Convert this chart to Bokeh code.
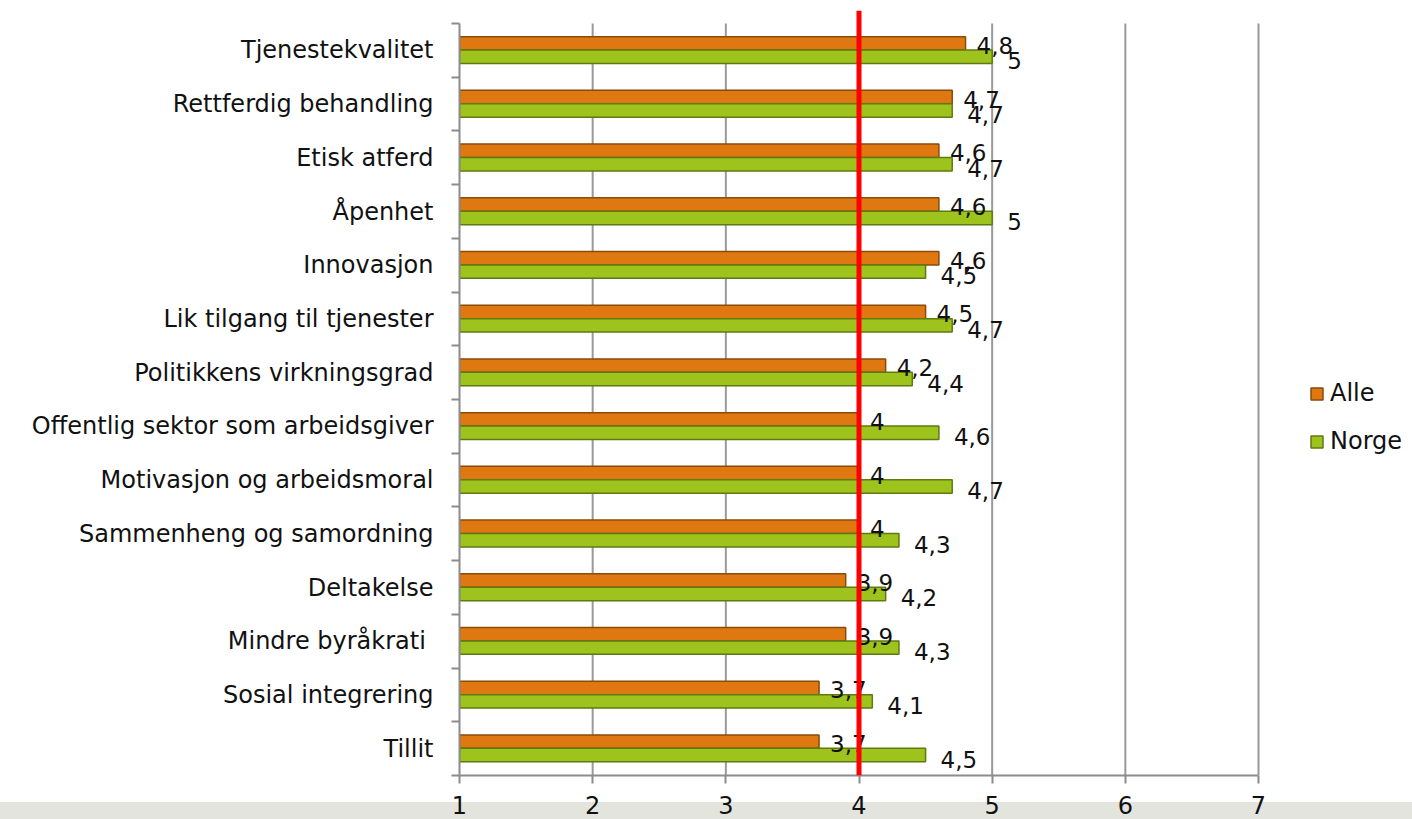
from bokeh.plotting import figure
from bokeh.models import (ColumnDataSource, Range1d, FixedTicker, LabelSet, Span,
                          Legend, LegendItem)
from bokeh.core.properties import value
from bokeh.embed import file_html
from bokeh.resources import INLINE

categories = ["Tjenestekvalitet", "Rettferdig behandling", "Etisk atferd", "Åpenhet",
              "Innovasjon", "Lik tilgang til tjenester", "Politikkens virkningsgrad",
              "Offentlig sektor som arbeidsgiver", "Motivasjon og arbeidsmoral",
              "Sammenheng og samordning", "Deltakelse", "Mindre  byråkrati",
              "Sosial integrering", "Tillit"]
alle = [4.8, 4.7, 4.6, 4.6, 4.6, 4.5, 4.2, 4.0, 4.0, 4.0, 3.9, 3.9, 3.7, 3.7]
norge = [5.0, 4.7, 4.7, 5.0, 4.5, 4.7, 4.4, 4.6, 4.7, 4.3, 4.2, 4.3, 4.1, 4.5]
x_ticks = [1, 2, 3, 4, 5, 6, 7]
reference_value = 4

FONT = "DejaVu Sans"
n = len(categories)
pos = [n - 1 - i for i in range(n)]

# frame spans to the right canvas edge; the axis itself is bounded to 1..7
x_end = 1 + 6 * (1412 - 459) / 799.0
# a little head-room above the top category so the red reference line runs higher
y_top = (n - 0.5) + 13 * n / 752.0


def fmt(v):
    return ("%g" % v).replace(".", ",")


src_a = ColumnDataSource(dict(y=[q + 0.13 for q in pos], v=alle, lbl=[fmt(v) for v in alle]))
src_n = ColumnDataSource(dict(y=[q - 0.12 for q in pos], v=norge, lbl=[fmt(v) for v in norge]))

p = figure(width=1412, height=819, output_backend="svg", toolbar_location=None,
           x_range=Range1d(1, x_end), y_range=Range1d(-0.5, y_top),
           min_border_left=459, min_border_right=0, min_border_top=10,
           min_border_bottom=44, outline_line_color=None)
p.border_fill_alpha = 0
p.background_fill_color = "white"
p.styles = {"background": "linear-gradient(to bottom, #ffffff 0px, #ffffff 802px, #e4e4de 802px, #e4e4de 819px)"}

# vertical grid lines, limited to the category area
p.segment(x0=x_ticks[1:], x1=x_ticks[1:], y0=-0.5, y1=n - 0.5,
          line_color="#999999", line_width=2)

ra = p.hbar(y="y", right="v", left=1, height=0.25, source=src_a,
            fill_color="#E07812", line_color="#8a4a0c", line_width=1.5)
rn = p.hbar(y="y", right="v", left=1, height=0.25, source=src_n,
            fill_color="#9DC31C", line_color="#5f7a12", line_width=1.5)

p.add_layout(LabelSet(x="v", y="y", text="lbl", source=src_a, x_offset=11, y_offset=-2,
                      text_baseline="middle", text_font=value(FONT), text_font_size="23px",
                      text_color="#111111"))
p.add_layout(LabelSet(x="v", y="y", text="lbl", source=src_n, x_offset=15, y_offset=-4,
                      text_baseline="middle", text_font=value(FONT), text_font_size="23px",
                      text_color="#111111"))

p.add_layout(Span(location=reference_value, dimension="height", line_color="#ff0000",
                  line_width=5))

# axes
p.xaxis.ticker = FixedTicker(ticks=x_ticks)
p.xaxis.bounds = (1, 7)
p.xaxis.axis_line_color = "#8c8c8c"
p.xaxis.axis_line_width = 2
p.xaxis.major_tick_line_color = "#8c8c8c"
p.xaxis.major_tick_line_width = 2
p.xaxis.major_tick_out = 8
p.xaxis.major_tick_in = 0
p.xaxis.minor_tick_line_color = None
p.xaxis.major_label_text_font = FONT
p.xaxis.major_label_text_font_size = "24px"
p.xaxis.major_label_text_color = "#111111"
p.xaxis.major_label_standoff = 12

p.yaxis.ticker = FixedTicker(ticks=pos, minor_ticks=[k - 0.5 for k in range(n + 1)])
p.yaxis.bounds = (-0.5, n - 0.5)
p.yaxis.major_label_overrides = {pos[i]: categories[i] for i in range(n)}
p.yaxis.axis_line_color = "#8c8c8c"
p.yaxis.axis_line_width = 2
p.yaxis.major_tick_line_color = None
p.yaxis.major_tick_out = 0
p.yaxis.major_tick_in = 0
p.yaxis.minor_tick_line_color = "#8c8c8c"
p.yaxis.minor_tick_line_width = 2
p.yaxis.minor_tick_out = 8
p.yaxis.minor_tick_in = 0
p.yaxis.major_label_text_font = FONT
p.yaxis.major_label_text_font_size = "24px"
p.yaxis.major_label_text_color = "#111111"
p.yaxis.major_label_standoff = 18

p.xgrid.grid_line_color = None
p.ygrid.grid_line_color = None

legend = Legend(items=[LegendItem(label="Alle", renderers=[ra]),
                       LegendItem(label="Norge", renderers=[rn])],
                location=(850, 320), orientation="vertical",
                glyph_width=15, glyph_height=15, label_text_font=FONT,
                label_text_font_size="24px", label_text_color="#111111",
                spacing=20, padding=0, margin=0, label_standoff=6,
                label_height=27, border_line_color=None, background_fill_alpha=0)
p.add_layout(legend)

open("out.html", "w").write(file_html(p, INLINE))
